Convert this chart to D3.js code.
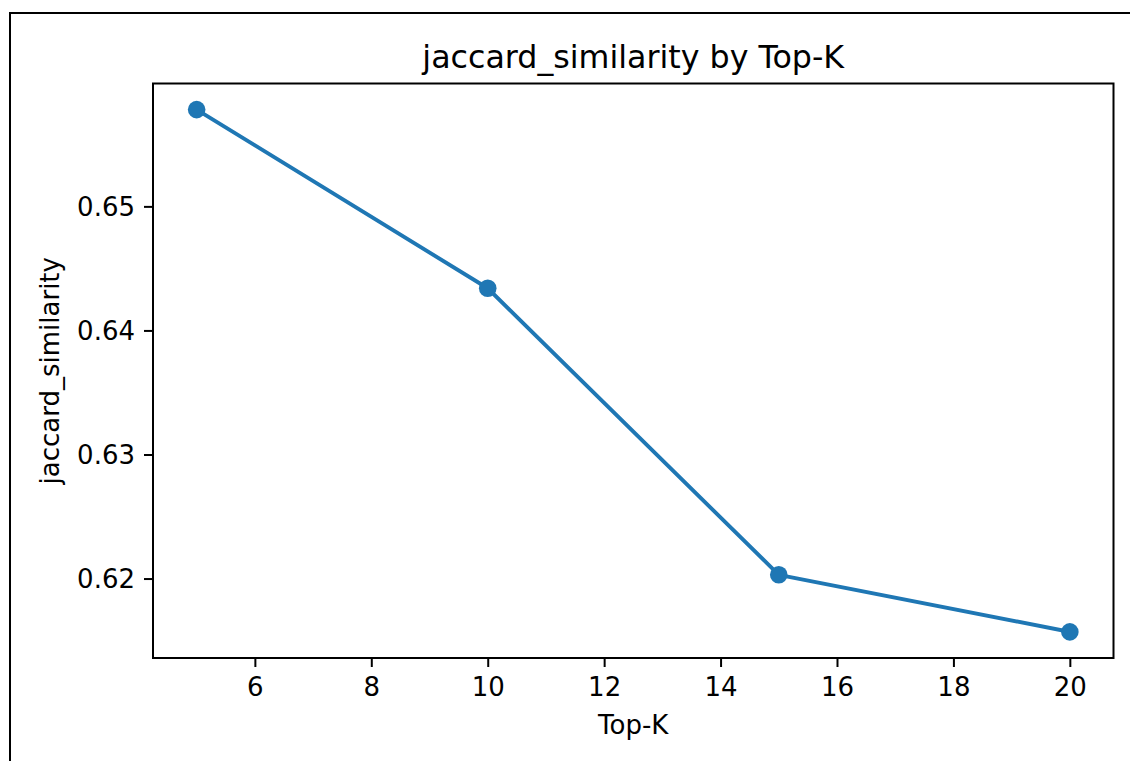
<!DOCTYPE html>
<html>
<head>
<meta charset="utf-8">
<script src="https://cdn.jsdelivr.net/npm/d3@7"></script>
<style>
  html, body { margin: 0; padding: 0; background: #fff; }
  svg { display: block; }
  text { font-family: "DejaVu Sans", sans-serif; fill: #000; }
</style>
</head>
<body>
<svg id="chart" width="1130" height="761"></svg>
<script>
// Values
const topK = [5, 10, 15, 20];
const jaccard = [0.6578, 0.6434, 0.6203, 0.6157];
const xTicks = [6, 8, 10, 12, 14, 16, 18, 20];
const yTicks = [0.62, 0.63, 0.64, 0.65];
const titleText = "jaccard_similarity by Top-K";
const xLabel = "Top-K";
const yLabel = "jaccard_similarity";

const svg = d3.select("#chart");
const W = 1130, H = 761;

// Outer frame
svg.append("rect")
  .attr("x", 10).attr("y", 13)
  .attr("width", W + 20).attr("height", H + 20)
  .attr("fill", "#fff").attr("stroke", "#000").attr("stroke-width", 2);

// Plot area
const plot = { left: 153, top: 83.5, right: 1113.5, bottom: 658 };

// 5% padding on each side of the data range
function padded(vals) {
  const [lo, hi] = d3.extent(vals);
  const m = (hi - lo) * 0.05;
  return [lo - m, hi + m];
}

const x = d3.scaleLinear().domain(padded(topK)).range([plot.left, plot.right]);
const y = d3.scaleLinear().domain(padded(jaccard)).range([plot.bottom, plot.top]);

const tickLen = 9, tickPad = 9, fontSize = 26;

// X axis
const xAxis = d3.axisBottom(x).tickValues(xTicks).tickSize(tickLen).tickPadding(tickPad).tickFormat(d3.format("d"));
const gx = svg.append("g").attr("transform", `translate(0,${plot.bottom})`).call(xAxis);
gx.select(".domain").remove();
gx.selectAll(".tick line").attr("stroke", "#000").attr("stroke-width", 2);
gx.selectAll(".tick text").attr("font-size", fontSize).attr("font-family", "DejaVu Sans").attr("fill", "#000")
  .attr("dy", null).attr("y", null)
  .attr("transform", `translate(0,${696 - plot.bottom})`);

// Y axis
const yAxis = d3.axisLeft(y).tickValues(yTicks).tickSize(tickLen).tickPadding(tickPad).tickFormat(d3.format(".2f"));
const gy = svg.append("g").attr("transform", `translate(${plot.left},0)`).call(yAxis);
gy.select(".domain").remove();
gy.selectAll(".tick line").attr("stroke", "#000").attr("stroke-width", 2);
gy.selectAll(".tick text").attr("font-size", fontSize).attr("font-family", "DejaVu Sans").attr("fill", "#000")
  .attr("dy", "0.36em");

// Line and markers
const line = d3.line().x((d, i) => x(topK[i])).y(d => y(d));
svg.append("path")
  .datum(jaccard)
  .attr("d", line)
  .attr("fill", "none")
  .attr("stroke", "#1f77b4")
  .attr("stroke-width", 3.9)
  .attr("stroke-linejoin", "round")
  .attr("stroke-linecap", "square");

svg.append("g").selectAll("circle")
  .data(jaccard)
  .join("circle")
  .attr("cx", (d, i) => x(topK[i]))
  .attr("cy", d => y(d))
  .attr("r", 8.8)
  .attr("fill", "#1f77b4");

// Axes box
svg.append("rect")
  .attr("x", plot.left).attr("y", plot.top)
  .attr("width", plot.right - plot.left).attr("height", plot.bottom - plot.top)
  .attr("fill", "none").attr("stroke", "#000").attr("stroke-width", 2);

// Title and axis labels
svg.append("text")
  .attr("x", (plot.left + plot.right) / 2).attr("y", 68)
  .attr("text-anchor", "middle").attr("font-size", 31.7)
  .text(titleText);

svg.append("text")
  .attr("x", (plot.left + plot.right) / 2).attr("y", 734)
  .attr("text-anchor", "middle").attr("font-size", fontSize)
  .text(xLabel);

svg.append("text")
  .attr("transform", `translate(59,${(plot.top + plot.bottom) / 2}) rotate(-90)`)
  .attr("text-anchor", "middle").attr("font-size", fontSize)
  .text(yLabel);
</script>
</body>
</html>
